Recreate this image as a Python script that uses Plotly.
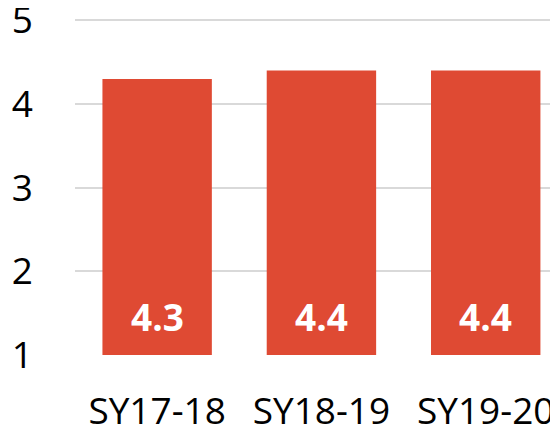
import plotly.graph_objects as go

categories = ["SY17-18", "SY18-19", "SY19-20"]
values = [4.3, 4.4, 4.4]
y_ticks = [1, 2, 3, 4, 5]

BAR_COLOR = "#DF4A33"
FONT = "Open Sans"

fig = go.Figure(
    go.Bar(
        x=categories,
        y=values,
        marker=dict(color=BAR_COLOR, line=dict(width=0)),
        hoverinfo="x+y",
    )
)

for c, v in zip(categories, values):
    fig.add_annotation(
        x=c, y=1, xref="x", yref="y",
        text=f"<b>{v:.1f}</b>",
        showarrow=False,
        yanchor="bottom",
        yshift=11,
        font=dict(family=FONT, size=37, color="white"),
    )

# page body has an 8px default margin; the plot area is placed to fit the window
fig.update_layout(
    width=558,
    height=428,
    margin=dict(l=67, r=8, t=4, b=81, autoexpand=False),
    paper_bgcolor="white",
    plot_bgcolor="white",
    bargap=0.334,
    showlegend=False,
    font=dict(family=FONT, size=37, color="black"),
)
fig.update_xaxes(
    range=[-0.5, 2.44],
    automargin=False,
    showgrid=False,
    showline=False,
    zeroline=False,
    ticks="",
    ticklabelstandoff=31,
    ticklabeloverflow="allow",
    tickfont=dict(family=FONT, size=37, color="black"),
)
fig.update_yaxes(
    range=[1, 5.1],
    automargin=False,
    tickvals=y_ticks,
    showgrid=True,
    gridcolor="#D9D9D9",
    gridwidth=1.5,
    showline=False,
    zeroline=False,
    ticks="",
    ticklabelstandoff=41,
    ticklabeloverflow="allow",
    tickfont=dict(family=FONT, size=37, color="black"),
)

fig.write_html("out.html")
